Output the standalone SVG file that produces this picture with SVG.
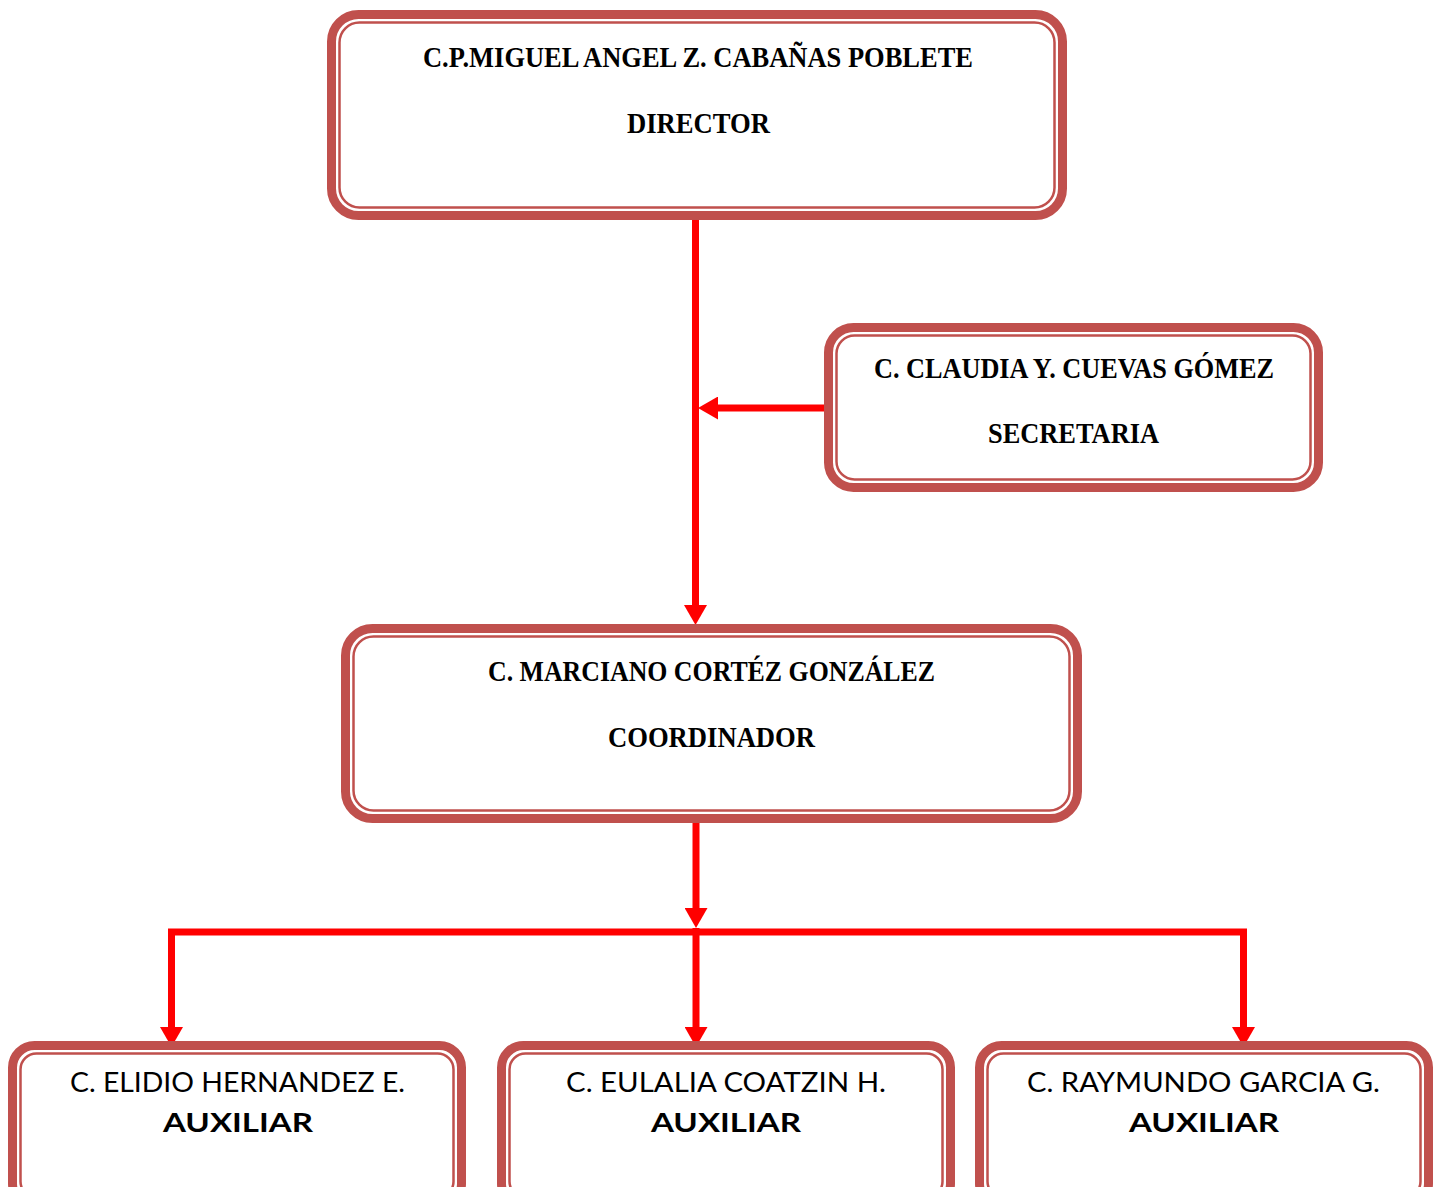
<svg xmlns="http://www.w3.org/2000/svg" width="1439" height="1187" viewBox="0 0 1439 1187">
<style>
.outer{fill:#fff;stroke:#C0504D;stroke-width:9}
.inner{fill:none;stroke:#C0504D;stroke-width:2.5}
.ser{font-family:"Liberation Serif","DejaVu Serif",serif;font-weight:bold;font-size:29px;fill:#000;text-anchor:middle}
.sans{font-family:Lato,"Open Sans","Liberation Sans",sans-serif;font-size:27px;fill:#000;text-anchor:middle}
.sansb{font-family:Lato,"Open Sans","Liberation Sans",sans-serif;font-weight:bold;font-size:27px;fill:#000;text-anchor:middle}
.conn{stroke:#FF0000;fill:none;stroke-width:7}
</style>
<defs>
<marker id="ah" markerUnits="userSpaceOnUse" markerWidth="20" markerHeight="23" refX="0" refY="11.5" orient="auto" viewBox="0 0 20 23">
<path d="M0,0 L20,11.5 L0,23 z" fill="#FF0000"/>
</marker>
</defs>
<g id="connectors">
<line class="conn" x1="695.5" y1="218" x2="695.5" y2="605" marker-end="url(#ah)"/>
<line class="conn" x1="829" y1="408" x2="718" y2="408" marker-end="url(#ah)"/>
<line class="conn" x1="696" y1="821" x2="696" y2="908" marker-end="url(#ah)"/>
<polyline class="conn" stroke-width="6" points="171.5,1027 171.5,932 1243.5,932 1243.5,1027"/>
<line class="conn" x1="171.5" y1="1020" x2="171.5" y2="1027" marker-end="url(#ah)"/>
<line class="conn" x1="696" y1="928" x2="696" y2="1027" marker-end="url(#ah)"/>
<line class="conn" x1="1243.5" y1="1020" x2="1243.5" y2="1027" marker-end="url(#ah)"/>
</g>
<g id="director">
<rect class="outer" x="331.5" y="14.5" width="731" height="201" rx="27"/>
<rect class="inner" x="339.5" y="22.5" width="715" height="185" rx="20"/>
<text class="ser" x="698" y="67" textLength="550" lengthAdjust="spacingAndGlyphs">C.P.MIGUEL ANGEL Z. CABAÑAS POBLETE</text>
<text class="ser" x="698.5" y="133" textLength="143" lengthAdjust="spacingAndGlyphs">DIRECTOR</text>
</g>
<g id="secretaria">
<rect class="outer" x="828.5" y="327.5" width="490" height="160" rx="25"/>
<rect class="inner" x="836.5" y="335.5" width="474" height="144" rx="18"/>
<text class="ser" x="1074" y="378" textLength="400" lengthAdjust="spacingAndGlyphs">C. CLAUDIA Y. CUEVAS GÓMEZ</text>
<text class="ser" x="1073.5" y="443" textLength="171" lengthAdjust="spacingAndGlyphs">SECRETARIA</text>
</g>
<g id="coordinador">
<rect class="outer" x="345.5" y="628.5" width="732" height="190" rx="27"/>
<rect class="inner" x="353.5" y="636.5" width="716" height="174" rx="20"/>
<text class="ser" x="711.5" y="681" textLength="447" lengthAdjust="spacingAndGlyphs">C. MARCIANO CORTÉZ GONZÁLEZ</text>
<text class="ser" x="711.5" y="747" textLength="207" lengthAdjust="spacingAndGlyphs">COORDINADOR</text>
</g>
<g id="aux1">
<rect class="outer" x="12.5" y="1045.5" width="449" height="160" rx="22"/>
<rect class="inner" x="20.5" y="1053.5" width="433" height="144" rx="16"/>
<text class="sans" x="237.5" y="1092" textLength="335" lengthAdjust="spacingAndGlyphs">C. ELIDIO HERNANDEZ E.</text>
<text class="sansb" x="238" y="1132" textLength="150" lengthAdjust="spacingAndGlyphs">AUXILIAR</text>
</g>
<g id="aux2">
<rect class="outer" x="501.5" y="1045.5" width="449" height="160" rx="22"/>
<rect class="inner" x="509.5" y="1053.5" width="433" height="144" rx="16"/>
<text class="sans" x="726" y="1092" textLength="320" lengthAdjust="spacingAndGlyphs">C. EULALIA COATZIN H.</text>
<text class="sansb" x="726" y="1132" textLength="150" lengthAdjust="spacingAndGlyphs">AUXILIAR</text>
</g>
<g id="aux3">
<rect class="outer" x="979.5" y="1045.5" width="449" height="160" rx="22"/>
<rect class="inner" x="987.5" y="1053.5" width="433" height="144" rx="16"/>
<text class="sans" x="1203.5" y="1092" textLength="353" lengthAdjust="spacingAndGlyphs">C. RAYMUNDO GARCIA G.</text>
<text class="sansb" x="1204" y="1132" textLength="150" lengthAdjust="spacingAndGlyphs">AUXILIAR</text>
</g>
</svg>
